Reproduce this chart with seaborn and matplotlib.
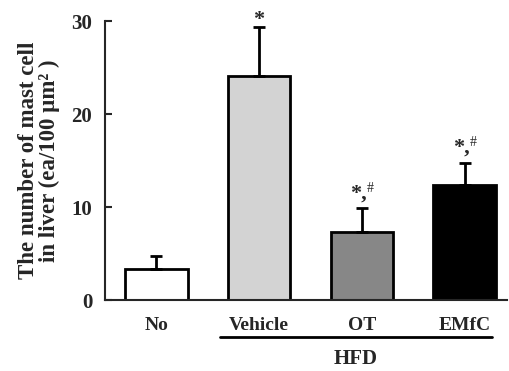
import pandas as pd
import matplotlib.pyplot as plt
import seaborn as sns

# values
groups = ['No', 'Vehicle', 'OT', 'EMfC']
means = [3.3, 24.1, 7.3, 12.4]
errors = [1.5, 5.3, 2.6, 2.4]
marks = ['', '*', '*,#', '*,#']
colors = ['#ffffff', '#d3d3d3', '#878787', '#000000']

df = pd.DataFrame({'group': groups, 'mean': means})

sns.set_style('ticks')
plt.rcParams['font.family'] = ['Liberation Serif', 'DejaVu Serif']

fig = plt.figure(figsize=(5.09, 3.71), dpi=100)
ax = fig.add_axes([0.206, 0.191, 0.79, 0.752])

sns.barplot(data=df, x='group', y='mean', hue='group', palette=colors,
            legend=False, width=0.61, edgecolor='black', linewidth=2,
            saturation=1, ax=ax)
ax.errorbar(range(len(groups)), means, yerr=[[0] * len(errors), errors],
            fmt='none', ecolor='black', elinewidth=2, capsize=4, capthick=2)

# significance marks
for i, (m, e, s) in enumerate(zip(means, errors, marks)):
    if s == '*':
        ax.text(i, m + e - 0.3, '*', ha='center', va='bottom', fontsize=16,
                fontweight='bold', clip_on=False)
    elif s:
        top = m + e + 0.5
        ax.text(i + 0.05, top, '*,', ha='right', va='bottom', fontsize=16,
                fontweight='bold', clip_on=False)
        ax.text(i + 0.05, top + 0.9, '#', ha='left', va='bottom', fontsize=10,
                clip_on=False)

ax.set_ylim(0, 30)
ax.set_xlim(-0.5, 3.41)
ax.set_yticks([0, 10, 20, 30])
ax.set_xlabel('')
ax.set_ylabel('The number of mast cell\nin liver (ea/100 µm² )',
              fontsize=16.5, fontweight='bold', labelpad=8, linespacing=1.0)
ax.tick_params(axis='y', direction='in', length=5, width=1.5, labelsize=15,
               pad=9)
ax.tick_params(axis='x', length=0, labelsize=14, pad=12)
for lab in ax.get_xticklabels() + ax.get_yticklabels():
    lab.set_fontweight('bold')
sns.despine(ax=ax)
ax.spines['left'].set_linewidth(1.5)
ax.spines['bottom'].set_linewidth(1.5)

# HFD group bracket
ax.plot([0.62, 3.26], [-4.0, -4.0], color='black', lw=2, clip_on=False)
ax.text(1.94, -6.3, 'HFD', ha='center', va='center', fontsize=15,
        fontweight='bold', clip_on=False)

plt.savefig('out.png', dpi=100)
